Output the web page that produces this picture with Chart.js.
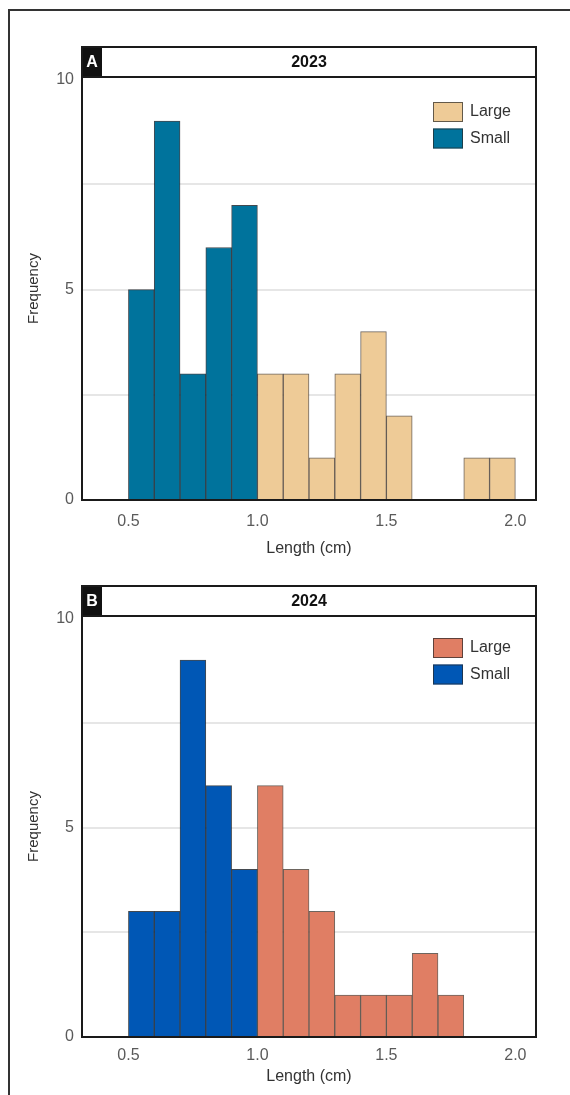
<!DOCTYPE html>
<html>
<head>
<meta charset="utf-8">
<title>Length frequency 2023 / 2024</title>
<script src="https://cdn.jsdelivr.net/npm/chart.js@4.4.1/dist/chart.umd.min.js"></script>
<style>
  html, body { margin: 0; padding: 0; background: #fff; }
  body { width: 570px; height: 1095px; position: relative; overflow: hidden; }
  .frame { position: absolute; left: 8px; top: 9px; width: 600px; height: 1200px;
           border-left: 2px solid #333; border-top: 2px solid #333; }
  canvas { position: absolute; left: 0; }
  #chartA { top: 0; }
  #chartB { top: 565px; }
</style>
</head>
<body>
<div class="frame"></div>
<canvas id="chartA" width="570" height="565"></canvas>
<canvas id="chartB" width="570" height="530"></canvas>
<script>
// bins are 0.1 cm wide, listed by left edge
const BIN_WIDTH = 0.1;
const BIN_EDGES = [0.5, 0.6, 0.7, 0.8, 0.9, 1.0, 1.1, 1.2, 1.3, 1.4, 1.5, 1.6, 1.7, 1.8, 1.9];

// 2023 counts per bin
const SMALL_2023 = [5, 9, 3, 6, 7, 0, 0, 0, 0, 0, 0, 0, 0, 0, 0];
const LARGE_2023 = [0, 0, 0, 0, 0, 3, 3, 1, 3, 4, 2, 0, 0, 1, 1];

// 2024 counts per bin
const SMALL_2024 = [3, 3, 9, 6, 4, 0, 0, 0, 0, 0, 0, 0, 0, 0, 0];
const LARGE_2024 = [0, 0, 0, 0, 0, 6, 4, 3, 1, 1, 1, 2, 1, 0, 0];

const X_TICKS = [0.5, 1.0, 1.5, 2.0];
const Y_LABELS = [0, 5, 10];
const Y_GRID = [2.5, 5, 7.5];

const FONT = '"Liberation Sans", Arial, Helvetica, sans-serif';
Chart.defaults.font.family = FONT;

function toPoints(counts) {
    return counts
        .map((c, i) => ({ x: BIN_EDGES[i] + BIN_WIDTH / 2, y: c }))
        .filter(p => p.y > 0);
}

// header strip with the panel letter and year, plus the black plot frame
const panelFrame = {
    id: 'panelFrame',
    afterDraw(chart, args, opts) {
        const { ctx, chartArea: a } = chart;
        const h = 30, letterW = 20;
        ctx.save();
        ctx.fillStyle = '#fff';
        ctx.fillRect(a.left, a.top - h, a.right - a.left, h);
        ctx.fillStyle = '#111';
        ctx.fillRect(a.left, a.top - h, letterW, h);
        ctx.lineWidth = 2;
        ctx.strokeStyle = '#1a1a1a';
        ctx.strokeRect(a.left, a.top - h, a.right - a.left, h);
        ctx.strokeRect(a.left, a.top, a.right - a.left, a.bottom - a.top);

        ctx.textBaseline = 'middle';
        ctx.textAlign = 'center';
        ctx.font = 'bold 16px ' + FONT;
        ctx.fillStyle = '#fff';
        ctx.fillText(opts.letter, a.left + letterW / 2, a.top - h / 2 + 1);
        ctx.fillStyle = '#111';
        ctx.fillText(opts.title, (a.left + a.right) / 2, a.top - h / 2 + 1);
        ctx.restore();
    }
};

// boxed legend in the top right corner, Large above Small
const boxLegend = {
    id: 'boxLegend',
    afterDraw(chart, args, opts) {
        const { ctx, chartArea: a } = chart;
        const items = chart.data.datasets.slice().reverse();
        ctx.save();
        ctx.font = '16px ' + FONT;
        ctx.textBaseline = 'middle';
        ctx.textAlign = 'left';
        items.forEach((ds, i) => {
            const x = a.right - 103;
            const y = a.top + opts.offsetTop + i * 26.5;
            ctx.fillStyle = ds.backgroundColor;
            ctx.fillRect(x, y, 30, 20);
            ctx.lineWidth = 1;
            ctx.strokeStyle = 'rgba(40,40,40,0.7)';
            ctx.strokeRect(x + 0.5, y + 0.5, 29, 19);
            ctx.fillStyle = '#333';
            ctx.fillText(ds.label, x + 37, y + 10);
        });
        ctx.restore();
    }
};

function makePanel(id, p) {
    return new Chart(document.getElementById(id), {
        type: 'bar',
        data: {
            datasets: [
                {
                    label: 'Small',
                    data: toPoints(p.small),
                    backgroundColor: p.smallColor,
                    borderColor: 'rgba(20,28,35,0.8)',
                    borderWidth: 1
                },
                {
                    label: 'Large',
                    data: toPoints(p.large),
                    backgroundColor: p.largeColor,
                    borderColor: 'rgba(60,50,40,0.75)',
                    borderWidth: 1
                }
            ]
        },
        options: {
            responsive: false,
            animation: false,
            grouped: false,
            barPercentage: 1,
            categoryPercentage: 1,
            layout: { padding: { top: p.padTop, left: 20, right: 34, bottom: p.padBottom } },
            plugins: {
                legend: { display: false },
                tooltip: { enabled: false },
                panelFrame: { letter: p.letter, title: p.title },
                boxLegend: { offsetTop: p.legendTop }
            },
            scales: {
                x: {
                    type: 'linear',
                    min: 0.32,
                    max: 2.08,
                    offset: false,
                    afterBuildTicks: s => { s.ticks = X_TICKS.map(v => ({ value: v })); },
                    afterFit: s => { s.height = p.xAxisH; },
                    grid: { display: false, offset: false },
                    border: { display: false },
                    ticks: {
                        padding: p.xTickPad,
                        color: '#5a5a5a',
                        font: { size: 16 },
                        maxRotation: 0,
                        callback: v => v.toFixed(1)
                    },
                    title: {
                        display: true,
                        text: 'Length (cm)',
                        color: '#333',
                        font: { size: 16 },
                        padding: { top: 0, bottom: 0 }
                    }
                },
                y: {
                    min: 0,
                    max: 10.05,
                    afterFit: s => { s.width = 62; },
                    border: { display: false },
                    grid: {
                        drawTicks: false,
                        lineWidth: 2,
                        color: c => Y_GRID.includes(c.tick.value) ? '#e6e6e6' : 'rgba(0,0,0,0)'
                    },
                    ticks: {
                        stepSize: 2.5,
                        includeBounds: false,
                        padding: 8,
                        color: '#5a5a5a',
                        font: { size: 16 },
                        callback: v => Y_LABELS.includes(v) ? String(v) : ''
                    },
                    title: {
                        display: true,
                        text: 'Frequency',
                        color: '#333',
                        font: { size: 15 },
                        padding: { top: 5, bottom: 0 }
                    }
                }
            }
        },
        plugins: [panelFrame, boxLegend]
    });
}

makePanel('chartA', {
    letter: 'A', title: '2023',
    small: SMALL_2023, large: LARGE_2023,
    smallColor: '#00739c', largeColor: '#eecb97',
    padTop: 77, padBottom: 7, xAxisH: 58, xTickPad: 4, legendTop: 25
});

makePanel('chartB', {
    letter: 'B', title: '2024',
    small: SMALL_2024, large: LARGE_2024,
    smallColor: '#0057b5', largeColor: '#e07e64',
    padTop: 51, padBottom: 9, xAxisH: 49, xTickPad: 1, legendTop: 22
});
</script>
</body>
</html>
